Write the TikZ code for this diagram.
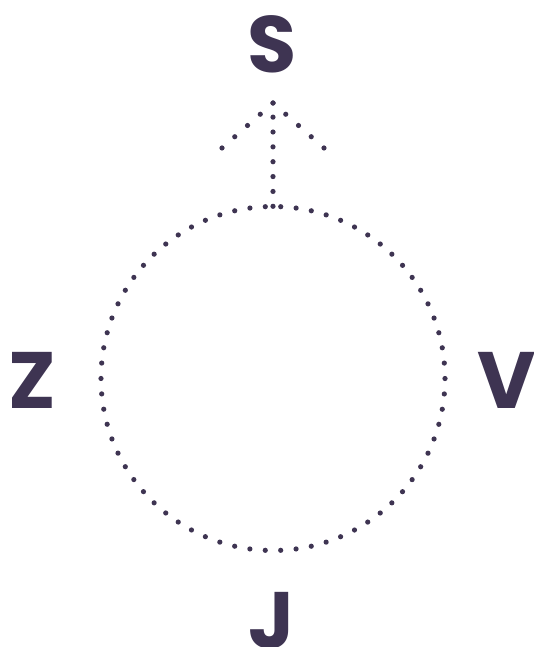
\documentclass[tikz,border=0pt]{standalone}
\usepackage{fontspec}
\setmainfont{Poppins}
\definecolor{ink}{HTML}{3E3452}
\begin{document}
\begin{tikzpicture}[x=1pt,y=-1pt,
  letter/.style={text=ink,font=\fontsize{80}{80}\selectfont\bfseries,inner sep=0pt},
  dots/.style={draw=ink,line width=5.2pt,line cap=round,dash pattern=on 0pt off #1}]
\useasboundingbox (0,0) rectangle (534,647);
\node[letter] (S) at (272.5,44) {S};
\node[letter] (Z) at (32.5,380) {Z};
\node[letter] (V) at (507,380) {V};
\node[letter,anchor=north] (J) at (272,592) {J};
\node[circle,minimum size=344pt,inner sep=0pt] (c) at (273,378.5) {};
\draw[dots=15.44pt] (c.center) circle[radius=172pt];
\coordinate (tip) at (273,103);
\coordinate (hl) at (222,148);
\coordinate (hr) at (324,148);
\draw[dots=14.86pt] (c.north) -- (tip);
\draw[dots=17pt] (tip) -- (hl);
\draw[dots=17pt] (tip) -- (hr);
\end{tikzpicture}
\end{document}
